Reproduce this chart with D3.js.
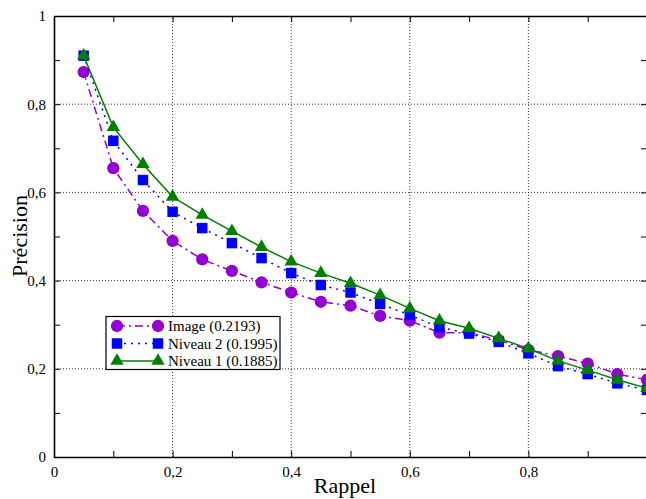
<!DOCTYPE html>
<html><head><meta charset="utf-8">
<script src="https://cdn.jsdelivr.net/npm/d3@7/dist/d3.min.js"></script>
<style>body{margin:0;background:#fff}svg{display:block}svg text{font-family:"Liberation Serif","Times New Roman",serif !important}</style>
</head><body><svg id="c" width="646" height="499"></svg>
<script>
const recall = [0.05,0.10,0.15,0.20,0.25,0.30,0.35,0.40,0.45,0.50,0.55,0.60,0.65,0.70,0.75,0.80,0.85,0.90,0.95,1.00];
const imageVals  = [0.873,0.655,0.558,0.490,0.448,0.422,0.396,0.373,0.352,0.343,0.320,0.309,0.282,0.282,0.265,0.243,0.229,0.212,0.188,0.175];
const niveau2Vals= [0.910,0.717,0.628,0.556,0.519,0.485,0.451,0.417,0.390,0.373,0.347,0.322,0.294,0.280,0.261,0.235,0.206,0.188,0.167,0.152];
const niveau1Vals= [0.910,0.748,0.664,0.590,0.549,0.512,0.476,0.443,0.417,0.394,0.367,0.337,0.309,0.292,0.269,0.246,0.218,0.197,0.175,0.156];
const seriesNames = ["Image (0.2193)","Niveau 2 (0.1995)","Niveau 1 (0.1885)"];
const xTickLabels = [0,0.2,0.4,0.6,0.8];
const yTickLabels = [0,0.2,0.4,0.6,0.8,1];
const allTicks = [0,0.1,0.2,0.3,0.4,0.5,0.6,0.7,0.8,0.9,1];
const gridVals = [0.2,0.4,0.6,0.8];

const FONT = "Liberation Serif, Times New Roman, serif";
const svg = d3.select("#c");
const x = d3.scaleLinear().domain([0,1]).range([54,647]);
const y = d3.scaleLinear().domain([0,1]).range([457,16]);
const fmt = v => v===0?"0":v===1?"1":d3.format(".1f")(v).replace(".",",");

// grid
const grid = svg.append("g");
gridVals.forEach(v=>{
  grid.append("line").attr("x1",x(v)).attr("x2",x(v)).attr("y1",y(0)).attr("y2",y(1))
    .attr("stroke","#000").attr("stroke-width",0.8).attr("stroke-dasharray","1,2");
  grid.append("line").attr("x1",x(0)).attr("x2",x(1)).attr("y1",y(v)).attr("y2",y(v))
    .attr("stroke","#000").attr("stroke-width",0.8).attr("stroke-dasharray","1,2");
});

// tick marks (inward) on all four sides
const tk = (axis) => axis.tickValues(allTicks).tickFormat("").tickSizeInner(-6).tickSizeOuter(0);
svg.append("g").attr("transform",`translate(0,${y(0)})`).call(tk(d3.axisBottom(x)));
svg.append("g").attr("transform",`translate(${x(0)},0)`).call(tk(d3.axisLeft(y)));
svg.append("g").attr("transform",`translate(0,${y(1)})`).call(tk(d3.axisTop(x)));
svg.append("g").attr("transform",`translate(${x(1)},0)`).call(tk(d3.axisRight(y)));
// labels
const gB = svg.append("g").attr("transform",`translate(0,${y(0)})`)
  .call(d3.axisBottom(x).tickValues(xTickLabels).tickFormat(fmt).tickSize(0).tickPadding(9));
const gL = svg.append("g").attr("transform",`translate(${x(0)},0)`)
  .call(d3.axisLeft(y).tickValues(yTickLabels).tickFormat(fmt).tickSize(0).tickPadding(8));
gB.select(".domain").remove(); gL.select(".domain").remove();
svg.selectAll(".domain").attr("stroke","#000").attr("stroke-width",1.6);
svg.selectAll(".tick line").attr("stroke","#000").attr("stroke-width",1);
svg.selectAll("g").attr("font-family",FONT);
svg.selectAll(".tick text").attr("font-size",15).attr("font-family",FONT).attr("fill","#000");

svg.append("text").attr("x",345).attr("y",493).attr("text-anchor","middle").attr("font-size",22).attr("font-family",FONT).text("Rappel");
svg.append("text").attr("transform","translate(27,236) rotate(-90)").attr("text-anchor","middle").attr("font-size",22).attr("font-family",FONT).text("Précision");

const series = [
  {name:seriesNames[0], vals:imageVals, color:"#9400d3", dash:"8,4,2,4", shape:d3.symbolCircle, size:118},
  {name:seriesNames[1], vals:niveau2Vals, color:"#0000ff", dash:"2,5", shape:d3.symbolSquare, size:110},
  {name:seriesNames[2], vals:niveau1Vals, color:"#008000", dash:null, shape:d3.symbolTriangle, size:78},
];
const line = d3.line().x((d,i)=>x(recall[i])).y(d=>y(d));
const plot = svg.append("g");
series.forEach(s=>{
  plot.append("path").datum(s.vals).attr("d",line).attr("fill","none")
    .attr("stroke",s.color).attr("stroke-width",1.5).attr("stroke-dasharray",s.dash);
  plot.selectAll(null).data(s.vals).enter().append("path")
    .attr("d",d3.symbol().type(s.shape).size(s.size))
    .attr("transform",(d,i)=>`translate(${x(recall[i])},${y(d)})`)
    .attr("fill",s.color);
});

// legend
const lg = svg.append("g");
lg.append("rect").attr("x",106).attr("y",316.5).attr("width",174).attr("height",53)
  .attr("fill","#fff").attr("stroke","#000").attr("stroke-width",1.2);
series.forEach((s,i)=>{
  const ly = 326 + i*17.5;
  lg.append("line").attr("x1",117).attr("x2",158).attr("y1",ly).attr("y2",ly)
    .attr("stroke",s.color).attr("stroke-width",1.5).attr("stroke-dasharray",s.dash);
  [117,158].forEach(px=>lg.append("path").attr("d",d3.symbol().type(s.shape).size(s.size)())
    .attr("transform",`translate(${px},${ly})`).attr("fill",s.color));
  lg.append("text").attr("x",168).attr("y",ly+5).attr("font-size",15).attr("font-family",FONT).text(s.name);
});
</script></body></html>
